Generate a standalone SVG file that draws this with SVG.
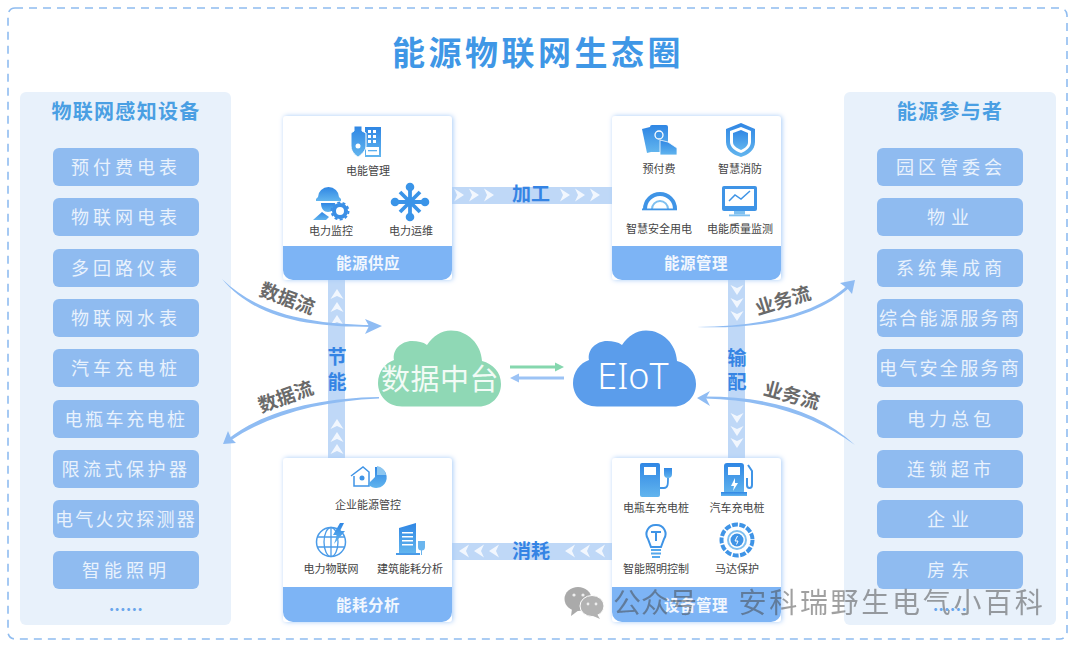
<svg xmlns="http://www.w3.org/2000/svg" width="1080" height="646" viewBox="0 0 1080 646">
<style>
text{font-family:"Noto Sans CJK SC","Liberation Sans",sans-serif;text-anchor:middle}
.panel{fill:#e8f1fb}
.item{fill:#8fbbf0}
.it{font-size:18px;fill:#e9f2fd;letter-spacing:4px}
.it7{font-size:18px;fill:#e9f2fd;letter-spacing:2.300px}
.it2{font-size:18px;fill:#e9f2fd;letter-spacing:6px}
.ptitle{font-size:20px;font-weight:700;fill:#4a9fe3;letter-spacing:1.300px}
.dots{font-size:16px;font-weight:700;fill:#6aa6ec;letter-spacing:.5px}
.card{fill:#fff;filter:url(#sh)}
.foot{fill:#7db4f5}
.ft{font-size:15.500px;font-weight:700;fill:#f2f7fe;letter-spacing:.5px}
.cap{font-size:11px;fill:#444}
.strip{fill:#bfd8f7}
.sl{font-size:19px;font-weight:700;fill:#3584e4}
.fl{font-size:19px;font-weight:700;fill:#6a6a6a}
.flow{fill:#8fbcf3}
.wm{font-size:28px;fill:#444;opacity:.5}
.b{fill:url(#bg)}
.w{fill:#fff}
.ws{fill:none;stroke:#fff;stroke-width:1.300}
</style>
<defs>
<linearGradient id="bg" x1="0" y1="0" x2="0" y2="1"><stop offset="0" stop-color="#2f86e4"/><stop offset="1" stop-color="#62b5ee"/></linearGradient>
<filter id="sh" x="-10%" y="-10%" width="120%" height="120%"><feDropShadow dx="1" dy="0" stdDeviation="2.500" flood-color="#a6cbf8"/></filter>
<path id="cloud" d="M402 406.500C387 406.500 378 395 378 383C378 372 385 363 394 360C392 350 401 341 412 341C418 341 423 342 427 345C433 336 441 330.500 451 330.500C468 330.500 481 344 482 361C493 364 501 372 501 384C501 397 491 406.500 479 406.500Z"/>
<path id="cr" d="M-7 -6.500L3 0L-7 6.500L-4 0Z" fill="#f2f7fe"/>
</defs>
<rect id="frame" x="8" y="8" width="1059" height="631" rx="7" fill="#fff" stroke="#8fbcf0" stroke-width="1.600" stroke-dasharray="8 6"/>
<text id="title" x="538" y="65" style="font-size:33px;font-weight:700;fill:#3f97e6;letter-spacing:3.500px">能源物联网生态圈</text>

<g id="panel-left">
<rect class="panel" x="20" y="92" width="211" height="533" rx="6"/>
<text class="ptitle" x="126" y="119">物联网感知设备</text>
<rect class="item" x="53" y="148" width="146" height="38" rx="6"/><text class="it" x="126" y="174">预付费电表</text>
<rect class="item" x="53" y="198" width="146" height="38" rx="6"/><text class="it" x="126" y="224">物联网电表</text>
<rect class="item" x="53" y="249" width="146" height="38" rx="6"/><text class="it" x="126" y="275">多回路仪表</text>
<rect class="item" x="53" y="299" width="146" height="38" rx="6"/><text class="it" x="126" y="325">物联网水表</text>
<rect class="item" x="53" y="349" width="146" height="38" rx="6"/><text class="it" x="126" y="375">汽车充电桩</text>
<rect class="item" x="53" y="400" width="146" height="38" rx="6"/><text class="it" x="126" y="426" style="letter-spacing:2.500px">电瓶车充电桩</text>
<rect class="item" x="53" y="450" width="146" height="38" rx="6"/><text class="it" x="126" y="476" style="letter-spacing:3.500px">限流式保护器</text>
<rect class="item" x="53" y="500" width="146" height="38" rx="6"/><text class="it7" x="126" y="526">电气火灾探测器</text>
<rect class="item" x="53" y="551" width="146" height="38" rx="6"/><text class="it" x="126" y="577">智能照明</text>
<text class="dots" x="126" y="611">......</text>
</g>
<g id="panel-right">
<rect class="panel" x="844" y="92" width="212" height="533" rx="6"/>
<text class="ptitle" x="950" y="119">能源参与者</text>
<rect class="item" x="877" y="148" width="146" height="38" rx="6"/><text class="it" x="951" y="174">园区管委会</text>
<rect class="item" x="877" y="198" width="146" height="38" rx="6"/><text class="it2" x="951" y="224">物业</text>
<rect class="item" x="877" y="249" width="146" height="38" rx="6"/><text class="it" x="951" y="275">系统集成商</text>
<rect class="item" x="877" y="299" width="146" height="38" rx="6"/><text class="it7" x="950" y="325">综合能源服务商</text>
<rect class="item" x="877" y="349" width="146" height="38" rx="6"/><text class="it7" x="950" y="375">电气安全服务商</text>
<rect class="item" x="877" y="400" width="146" height="38" rx="6"/><text class="it" x="951" y="426">电力总包</text>
<rect class="item" x="877" y="450" width="146" height="38" rx="6"/><text class="it" x="951" y="476">连锁超市</text>
<rect class="item" x="877" y="500" width="146" height="38" rx="6"/><text class="it2" x="951" y="526">企业</text>
<rect class="item" x="877" y="551" width="146" height="38" rx="6"/><text class="it2" x="951" y="577">房东</text>
<text class="dots" x="950" y="611">......</text>
</g>

<g id="connectors">
<g id="strip-jiagong">
<rect class="strip" x="452" y="187" width="160" height="17"/>
<use href="#cr" x="461" y="195"/><use href="#cr" x="476" y="195"/><use href="#cr" x="491" y="195"/>
<use href="#cr" x="567" y="195"/><use href="#cr" x="582" y="195"/><use href="#cr" x="597" y="195"/>
<text class="sl" x="531" y="201">加工</text>
</g>
<g id="strip-xiaohao">
<rect class="strip" x="452" y="543" width="160" height="17"/>
<use href="#cr" transform="translate(462 551) rotate(180)"/><use href="#cr" transform="translate(477 551) rotate(180)"/><use href="#cr" transform="translate(492 551) rotate(180)"/>
<use href="#cr" transform="translate(568 551) rotate(180)"/><use href="#cr" transform="translate(583 551) rotate(180)"/><use href="#cr" transform="translate(598 551) rotate(180)"/>
<text class="sl" x="531" y="558">消耗</text>
</g>
<g id="strip-jieneng">
<rect class="strip" x="328" y="280" width="17" height="178"/>
<use href="#cr" transform="translate(337 292) rotate(-90)"/><use href="#cr" transform="translate(337 305) rotate(-90)"/><use href="#cr" transform="translate(337 318) rotate(-90)"/>
<use href="#cr" transform="translate(337 422) rotate(-90)"/><use href="#cr" transform="translate(337 435) rotate(-90)"/><use href="#cr" transform="translate(337 447) rotate(-90)"/>
<text class="sl" x="337" y="364">节</text><text class="sl" x="337" y="389">能</text>
</g>
<g id="strip-shupei">
<rect class="strip" x="728" y="280" width="17" height="178"/>
<use href="#cr" transform="translate(737 292) rotate(90)"/><use href="#cr" transform="translate(737 305) rotate(90)"/><use href="#cr" transform="translate(737 318) rotate(90)"/>
<use href="#cr" transform="translate(737 420) rotate(90)"/><use href="#cr" transform="translate(737 433) rotate(90)"/><use href="#cr" transform="translate(737 445) rotate(90)"/>
<text class="sl" x="737" y="365">输</text><text class="sl" x="737" y="389">配</text>
</g>
<g id="flow-1"><path class="flow" d="M222 279C258 314 310 324 372 325L372 327C305 327 255 318 222 279Z"/><path class="flow" d="M382 326L365 319L369 326L365 334Z"/></g>
<g id="flow-2"><path class="flow" d="M379 397C320 398 265 410 228 439L230 441C268 415 320 401 379 398.500Z"/><path class="flow" d="M223 444L228 431L231 438L236 443Z"/></g>
<g id="flow-3"><path class="flow" d="M697 327C760 326 815 315 848 285L850 287C815 319 760 329 697 327Z"/><path class="flow" d="M855 280L852 294L847 288L840 283Z"/></g>
<g id="flow-4"><path class="flow" d="M855 445C815 416 765 400 705 398.500L705 396.500C770 396.500 820 412 855 445Z"/><path class="flow" d="M697 398L710 391L706 398L710 406Z"/></g>
<g id="dual">
<rect x="510" y="365.500" width="47" height="3" fill="#85d7ae"/><path d="M564 367L555 362.500V371.500Z" fill="#85d7ae"/>
<rect x="517" y="376.500" width="47" height="3" fill="#9cc3f5"/><path d="M510 378L519 373.500V382.500Z" fill="#9cc3f5"/>
</g>
<text class="fl" transform="translate(285 305) rotate(20)">数据流</text>
<text class="fl" transform="translate(288 403) rotate(-20)">数据流</text>
<text class="fl" transform="translate(785 307) rotate(-17)">业务流</text>
<text class="fl" transform="translate(790 402) rotate(15)">业务流</text>
</g>

<g id="cloud-data"><use href="#cloud" fill="#8fd8b5"/><text x="440" y="390" style="font-size:29px;fill:#f2fbf6;letter-spacing:.5px">数据中台</text></g>
<g id="cloud-eiot"><use href="#cloud" x="195" fill="#5b9deb"/><text x="633" y="389" style="font-size:36px;fill:#fff;font-family:'Noto Sans','Liberation Sans',sans-serif;font-weight:300">EIoT</text></g>

<g id="card-supply">
<rect class="card" x="283" y="116" width="169" height="164" rx="3"/>
<path class="foot" d="M283 246H452V270a10 10 0 0 1-10 10H293a10 10 0 0 1-10-10Z"/>
<text class="ft" x="368" y="269">能源供应</text>
<g><path class="b" d="M365 127H381V157H365Z"/><path d="M368 130h3v3h-3zm5 0h3v3h-3zm-5 5h3v3h-3zm5 0h3v3h-3zm-5 5h3v3h-3zm5 0h3v3h-3z" fill="#fff"/><rect x="366" y="147" width="13" height="8" fill="#fff"/><rect x="368" y="150" width="9" height="1.300" fill="#5aaeee"/><path d="M354 131V126H362V131L366 133V146C366 152 358 157 358 157C358 157 351 153 351 146V133Z" class="b" stroke="#fff" stroke-width="1"/><circle cx="358" cy="146" r="2.500" class="w"/></g>
<text class="cap" x="368" y="175">电能管理</text>
<g><path class="b" d="M318 197A10.500 10 0 0 1 339 197L341 199V201H316V199Z"/><path class="b" d="M321 203H335C335 209 332 212 328 212C324 212 321 209 321 203Z"/><path class="b" d="M313 220L322 212L329 217L326 220Z"/><circle cx="340" cy="211" r="6" fill="none" stroke="#3b8fe6" stroke-width="4"/><circle cx="340" cy="211" r="8.500" fill="none" stroke="#3b8fe6" stroke-width="2" stroke-dasharray="3 2.300"/></g>
<text class="cap" x="331" y="235">电力监控</text>
<g stroke="#3a94e8" stroke-width="3.800" fill="#3a94e8"><path d="M410 187V217M395 202H425M400 192L420 212M420 192L400 212"/><circle cx="410" cy="187" r="2.400"/><circle cx="410" cy="217" r="2.400"/><circle cx="395" cy="202" r="2.400"/><circle cx="425" cy="202" r="2.400"/></g>
<text class="cap" x="411" y="235">电力运维</text>
</g>

<g id="card-manage">
<rect class="card" x="612" y="116" width="169" height="164" rx="3"/>
<path class="foot" d="M612 246H781V270a10 10 0 0 1-10 10H622a10 10 0 0 1-10-10Z"/>
<text class="ft" x="696" y="269">能源管理</text>
<g><path class="b" d="M642 129L650 127L655 151L647 153Z"/><rect class="b" x="650" y="125" width="18" height="27" rx="2"/><path class="b" d="M660 140L668 142L677 148V155H660Z" stroke="#fff" stroke-width=".8"/><circle cx="659" cy="135" r="4" class="ws"/></g>
<text class="cap" x="659" y="173">预付费</text>
<g><path class="b" d="M741 123L755 129V142C755 150 748 155 741 157C733 155 726 150 726 142V129Z"/><path d="M741 127L751 131V142C751 147 746 151 741 153C735 151 730 147 730 142V131Z" fill="#fff"/><path class="b" d="M741 130L748 133V142C748 146 745 148 741 150C737 148 733 146 733 142V133Z"/></g>
<text class="cap" x="740" y="173">智慧消防</text>
<g><path d="M645 209A15 15 0 0 1 675 209" fill="none" stroke="#3f94e6" stroke-width="4"/><path d="M652 209A8 8 0 0 1 668 209" fill="none" stroke="#7fc0f0" stroke-width="2"/><rect x="642" y="208.500" width="35" height="1.800" fill="#3f94e6"/></g>
<text class="cap" x="659" y="233">智慧安全用电</text>
<g><rect x="722" y="186" width="35" height="25" rx="2" fill="#3f94e6"/><rect x="725" y="189" width="29" height="17" fill="#fff"/><rect x="734" y="211" width="11" height="3.500" fill="#7fc0f0"/><rect x="729" y="214.500" width="21" height="1.800" fill="#7fc0f0"/><path d="M729 201L735 195L741 199L750 191" fill="none" stroke="#3f94e6" stroke-width="1.500"/></g>
<text class="cap" x="740" y="233">电能质量监测</text>
</g>

<g id="card-analysis">
<rect class="card" x="283" y="458" width="169" height="164" rx="3"/>
<path class="foot" d="M283 587H452V612a10 10 0 0 1-10 10H293a10 10 0 0 1-10-10Z"/>
<text class="ft" x="368" y="611">能耗分析</text>
<g><path d="M351 476L363 467L369 472V486H354V476" fill="#fff" stroke="#3f94e6" stroke-width="1.500"/><circle cx="362" cy="478" r="2.500" fill="#3f94e6"/><path class="b" d="M375 467A10.500 10.500 0 1 1 368 484L375 477Z"/><path d="M377 466A10 10 0 0 1 386 475H377Z" fill="#8cc6f0"/></g>
<text class="cap" x="368" y="509">企业能源管控</text>
<g><circle cx="331" cy="542" r="14.500" fill="#fff" stroke="#4a9be8" stroke-width="1.500"/><ellipse cx="331" cy="542" rx="7" ry="14.500" fill="none" stroke="#4a9be8" stroke-width="1.300"/><path d="M317 537H345M317 547H345M331 528V556" stroke="#4a9be8" stroke-width="1.300" fill="none"/><path class="b" d="M340 523L333 535H337L334 544L345 531H340L344 523Z"/></g>
<text class="cap" x="331" y="573">电力物联网</text>
<g><path class="b" d="M399 528L416 523V553H399Z"/><path d="M402 532h11v1.500h-11zm0 4h11v1.500h-11zm0 4h11v1.500h-11zm0 4h11v1.500h-11z" fill="#fff"/><rect x="396" y="553" width="24" height="2" fill="#4a9be8"/><path d="M418 541h7v6a3.500 3.500 0 0 1-7 0Z" fill="#6ab5ee"/><path d="M421.500 550V555" stroke="#6ab5ee"/></g>
<text class="cap" x="410" y="573">建筑能耗分析</text>
</g>

<g id="card-device">
<rect class="card" x="612" y="458" width="169" height="164" rx="3"/>
<path class="foot" d="M612 587H781V612a10 10 0 0 1-10 10H622a10 10 0 0 1-10-10Z"/>
<text class="ft" x="696" y="611">设备管理</text>
<g><rect class="b" x="640" y="463" width="20" height="34" rx="2"/><rect x="644" y="467" width="12" height="8" fill="#fff"/><path d="M660 488H664C668 488 668 484 668 478" fill="none" stroke="#3f94e6" stroke-width="1.800"/><path class="b" d="M664 468h8v6a4 4 0 0 1-8 0Z"/></g>
<text class="cap" x="656" y="512">电瓶车充电桩</text>
<g><rect class="b" x="724" y="463" width="20" height="31" rx="3"/><rect x="728" y="467" width="12" height="8" fill="#fff"/><path d="M735 478L731 486H734L733 491L738 483H735Z" fill="#fff"/><rect class="b" x="721" y="492" width="26" height="4"/><path d="M748 465L752 471V485C752 489 747 489 747 485V478" fill="none" stroke="#3f94e6" stroke-width="2"/></g>
<text class="cap" x="737" y="512">汽车充电桩</text>
<g><path d="M656 525A9 9 0 0 1 664 539L661 547H651L648 539A9 9 0 0 1 656 525Z" fill="#fff" stroke="#3f94e6" stroke-width="2"/><path d="M651 532H661M656 532V541" stroke="#3f94e6" stroke-width="2" fill="none"/><path d="M651 550H661M651 553.500H661M652 557H660" stroke="#55a8ec" stroke-width="2" fill="none"/></g>
<text class="cap" x="656" y="573">智能照明控制</text>
<g><circle cx="737" cy="540" r="15.500" fill="none" stroke="#3f94e6" stroke-width="4" stroke-dasharray="6 1.500"/><circle cx="737" cy="540" r="9" fill="none" stroke="#7fc0f0" stroke-width="2"/><circle cx="737" cy="540" r="6.500" fill="#3f94e6"/><path d="M737.500 536L735 541H738L736.500 544.500" fill="none" stroke="#fff"/></g>
<text class="cap" x="737" y="573">马达保护</text>
</g>

<g id="watermark">
<ellipse cx="578" cy="599" rx="13.500" ry="12" fill="#aaa"/><path d="M572 609L571 616L579 610Z" fill="#aaa"/>
<ellipse cx="592" cy="606" rx="12" ry="10.500" fill="#b2b2b2" stroke="#fff"/><path d="M597 614L600 619L591 615Z" fill="#b2b2b2"/>
<circle cx="574" cy="595" r="1.600" fill="#eee"/><circle cx="583" cy="595" r="1.600" fill="#eee"/><circle cx="588" cy="604" r="1.400" fill="#eee"/><circle cx="596" cy="604" r="1.400" fill="#eee"/>
<text class="wm" x="655" y="613">公众号</text>
<text class="wm" x="892" y="613" style="letter-spacing:2.700px">安科瑞野生电气小百科</text>
</g>
</svg>
